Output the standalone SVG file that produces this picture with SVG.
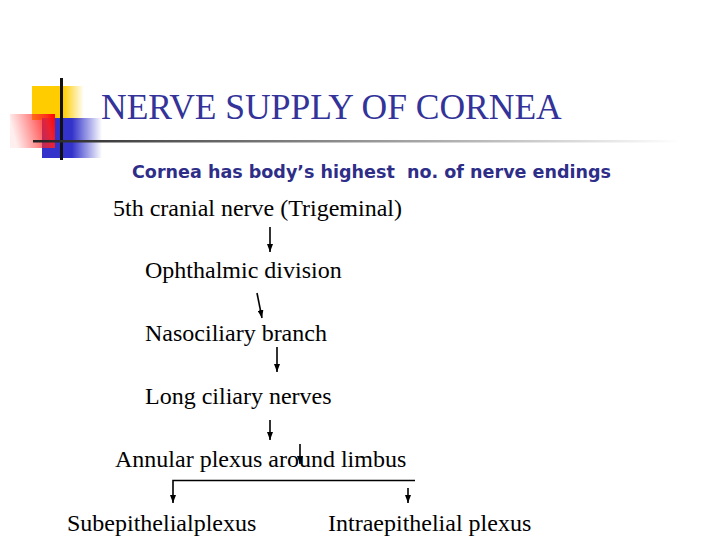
<svg xmlns="http://www.w3.org/2000/svg" width="720" height="540" viewBox="0 0 720 540">
<style>
.t{font-family:"Liberation Serif","Times New Roman",serif;font-size:24px;fill:#000}
.c{stroke:#000;stroke-width:1.6;fill:none}
</style>
<defs>
<marker id="ah" markerUnits="userSpaceOnUse" markerWidth="8" markerHeight="6" refX="8" refY="3" orient="auto">
<path d="M0,0 L8,3 L0,6 z" fill="#000"/>
</marker>
<linearGradient id="gy" x1="0" y1="0" x2="1" y2="0">
<stop offset="0" stop-color="#FFCC00"/><stop offset="0.6" stop-color="#FFCC00"/><stop offset="1" stop-color="#FFCC00" stop-opacity="0"/>
</linearGradient>
<linearGradient id="gb" x1="0" y1="0" x2="1" y2="0">
<stop offset="0" stop-color="#3333CC"/><stop offset="0.5" stop-color="#3333CC"/><stop offset="1" stop-color="#3333CC" stop-opacity="0"/>
</linearGradient>
<linearGradient id="gr" x1="0" y1="0.2" x2="1" y2="0">
<stop offset="0" stop-color="#FF3333" stop-opacity="0.08"/><stop offset="0.8" stop-color="#FF2020" stop-opacity="0.9"/><stop offset="1" stop-color="#FF0000"/>
</linearGradient>
<linearGradient id="gl" gradientUnits="userSpaceOnUse" x1="33" y1="0" x2="680" y2="0">
<stop offset="0" stop-color="#222"/><stop offset="0.2" stop-color="#555"/><stop offset="0.7" stop-color="#bbb"/><stop offset="1" stop-color="#fff"/>
</linearGradient>
</defs>
<rect width="720" height="540" fill="#fff"/>
<g id="logo">
<rect x="32" y="86" width="52" height="34" fill="url(#gy)"/>
<rect x="42" y="118" width="60" height="40" fill="url(#gb)"/>
<rect x="10" y="114" width="45" height="34" fill="url(#gr)"/>
<rect x="60" y="78" width="3" height="82" fill="#111"/>
<rect x="33" y="140" width="650" height="2.5" fill="url(#gl)"/>
</g>
<g id="title">
<text x="101" y="119" font-family="Liberation Serif,'Times New Roman',serif" font-size="35.5" fill="#333399">NERVE SUPPLY OF CORNEA</text>
</g>
<g id="subtitle">
<text x="132" y="178" xml:space="preserve" font-family="'DejaVu Sans',Verdana,sans-serif" font-weight="bold" font-size="18" fill="#2E2E88" textLength="479" lengthAdjust="spacingAndGlyphs">Cornea has body’s highest  no. of nerve endings</text>
</g>
<g id="n1"><text class="t" x="113" y="216">5th cranial nerve (Trigeminal)</text></g>
<g id="n2"><text class="t" x="145" y="278">Ophthalmic division</text></g>
<g id="n3"><text class="t" x="145" y="341">Nasociliary branch</text></g>
<g id="n4"><text class="t" x="145" y="404">Long ciliary nerves</text></g>
<g id="n5"><text class="t" x="115" y="467">Annular plexus around limbus</text></g>
<g id="n6"><text class="t" x="67" y="531">Subepithelialplexus</text></g>
<g id="n7"><text class="t" x="328" y="531">Intraepithelial plexus</text></g>
<g id="connectors">
<line class="c" x1="270" y1="227" x2="270" y2="252" marker-end="url(#ah)"/>
<line class="c" x1="257" y1="293" x2="262" y2="318" marker-end="url(#ah)"/>
<line class="c" x1="277" y1="347" x2="277" y2="372" marker-end="url(#ah)"/>
<line class="c" x1="270" y1="420" x2="270" y2="440" marker-end="url(#ah)"/>
<line class="c" x1="300" y1="444" x2="300" y2="464" marker-end="url(#ah)"/>
<polyline class="c" points="415,480.5 173,480.5 173,503" marker-end="url(#ah)"/>
<line class="c" x1="408" y1="488" x2="408" y2="503" marker-end="url(#ah)"/>
</g>
</svg>
